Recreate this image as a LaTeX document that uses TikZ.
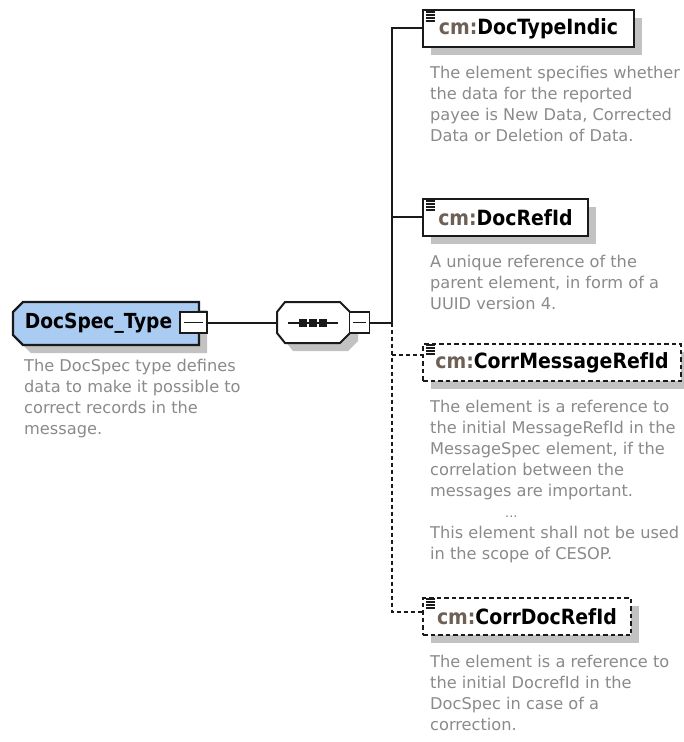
\documentclass[tikz,border=0pt]{standalone}
\usepackage{fontspec}
\setmainfont{DejaVu Sans}
\newfontfamily\condfont{DejaVu Sans Condensed}
\usetikzlibrary{shadows}
\definecolor{descgray}{HTML}{8A8A8A}
\definecolor{nsgray}{HTML}{6F6055}
\definecolor{rootblue}{HTML}{AACBF2}
\definecolor{shgray}{HTML}{C2C2C2}
\definecolor{ink}{HTML}{1A1A1A}
\begin{document}
\begin{tikzpicture}[x=1pt,y=-1pt,
  shd/.style={drop shadow={shadow xshift=8pt,shadow yshift=-8pt,fill=shgray,opacity=1}},
  elem/.style={draw=ink,line width=2pt,fill=white,shd,anchor=north west,inner sep=0pt,
    minimum height=37pt,font=\condfont\fontsize{21}{24}\selectfont\bfseries},
  optelem/.style={elem,dash pattern=on 4.5pt off 3pt},
  desc/.style={anchor=north west,align=left,inner sep=0pt,text=descgray,
    font=\fontsize{16.2}{21}\selectfont},
  conn/.style={draw=ink,line width=2pt},
  optconn/.style={draw=ink,line width=2pt,dash pattern=on 4pt off 3pt},
  minusbox/.style={draw=ink,line width=1.6pt,fill=white,inner sep=0pt},
  minusbar/.style={draw=ink,line width=1.6pt},
  iconline/.style={draw=ink,line width=1.1pt}
]
\useasboundingbox (0,0) rectangle (684,742);

% ---------- root element ----------
\fill[shgray,shift={(8,8)}] (23,302) -- (199,302) -- (199,345) -- (23,345) -- (13,335) -- (13,312) -- cycle;
\draw[ink,line width=2.2pt,fill=rootblue] (23,302) -- (199,302) -- (199,345) -- (23,345) -- (13,335) -- (13,312) -- cycle;
\node[inner sep=0pt,font=\condfont\fontsize{20.7}{24}\selectfont\bfseries,text=black] (root) at (98.5,323.5) {DocSpec\_Type};
\node[minusbox,minimum width=27pt,minimum height=21pt] (rootminus) at (193.5,322.5) {};
\draw[minusbar] ([xshift=5pt]rootminus.west) -- ([xshift=-5pt]rootminus.east);
\node[desc] (rootdesc) at (24,359) {The DocSpec type defines\\data to make it possible to\\correct records in the\\message.};

% ---------- sequence compositor ----------
\fill[shgray,shift={(8,8)}] (285,302) -- (340,302) -- (350,312) -- (350,333) -- (340,343) -- (285,343) -- (277,333) -- (277,312) -- cycle;
\draw[ink,line width=2pt,fill=white] (285,302) -- (340,302) -- (350,312) -- (350,333) -- (340,343) -- (285,343) -- (277,333) -- (277,312) -- cycle;
\node[inner sep=0pt,minimum width=73pt,minimum height=41pt] (seq) at (313.5,322.5) {};
\draw[conn] (288,322.5) -- (338,322.5);
\foreach \sx in {299,309,319} \fill[ink] (\sx,318.5) rectangle ++(8,8);
\node[minusbox,minimum width=20pt,minimum height=21pt] (seqminus) at (359.5,322.5) {};
\draw[minusbar] ([xshift=4pt]seqminus.west) -- ([xshift=-4pt]seqminus.east);

\draw[conn] (rootminus.east) -- (seq.west);

% ---------- child elements ----------
\node[elem,minimum width=211pt] (e1) at (422,9) {{\color{nsgray}cm:}DocTypeIndic};
\node[elem,minimum width=165pt] (e2) at (422,198) {{\color{nsgray}cm:}DocRefId};
\node[optelem,minimum width=258pt] (e3) at (422,343) {{\color{nsgray}cm:}CorrMessageRefId};
\node[optelem,minimum width=208pt] (e4) at (422,597) {{\color{nsgray}cm:}CorrDocRefId};

\foreach \e/\dy in {e1/0,e2/0,e3/-1,e4/-1}{
  \foreach \k in {0,1,2,3}
    \draw[iconline] ([xshift=4pt,yshift={-(3+3*\k+\dy)*1pt}]\e.north west) -- ++(9,0);
}

\node[desc] (d1) at (430,66) {The element specifies whether\\the data for the reported\\payee is New Data, Corrected\\Data or Deletion of Data.};
\node[desc] (d2) at (430,255) {A unique reference of the\\parent element, in form of a\\UUID version 4.};
\node[desc] (d3) at (430,400) {The element is a reference to\\the initial MessageRefId in the\\MessageSpec element, if the\\correlation between the\\messages are important.\\\hspace*{75pt}{\fontsize{13}{21}\selectfont...}\\This element shall not be used\\in the scope of CESOP.};
\node[desc] (d4) at (430,655) {The element is a reference to\\the initial DocrefId in the\\DocSpec in case of a\\correction.};

% ---------- connectors ----------
\coordinate (jm) at (392,322.5);
\coordinate (j1) at (392,28);
\coordinate (j2) at (392,217);
\coordinate (j3) at (392,355);
\coordinate (j4) at (392,612);

\draw[conn] (seqminus.east) -- (jm);
\draw[conn] (j1 -| e1.west) -- (j1) -- (jm);
\draw[conn] (j2) -- (j2 -| e2.west);
\draw[optconn] (jm) -- (j4) -- (j4 -| e4.west);
\draw[optconn] (j3) -- (j3 -| e3.west);
\end{tikzpicture}
\end{document}
